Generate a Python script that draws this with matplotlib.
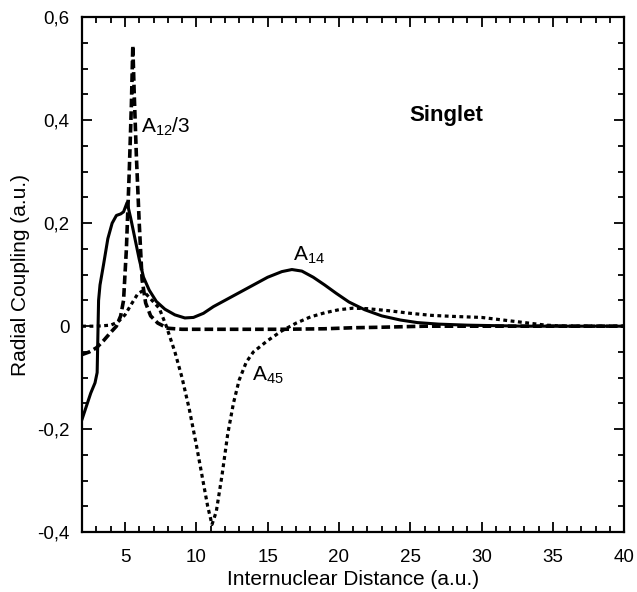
import matplotlib
matplotlib.use('Agg')
from matplotlib import pyplot as plt
from matplotlib.ticker import MultipleLocator, FuncFormatter

plt.rcParams['font.family'] = ['Liberation Sans', 'DejaVu Sans']

# A14 (solid)
x14 = [2.0, 2.3, 2.6, 2.9, 3.05, 3.1, 3.15, 3.25, 3.5, 3.8, 4.1, 4.4, 4.7, 4.9, 5.15, 5.4, 5.7,
       6.0, 6.3, 6.7, 7.2, 7.8, 8.5, 9.2, 9.8, 10.5, 11.2, 12.0, 13.0, 14.0, 15.0, 16.0, 16.7,
       17.4, 18.2, 19.0, 19.8, 20.7, 21.8, 23.0, 24.3, 25.5, 27.0, 29.0, 31.0, 33.0, 36.0, 40.0]
y14 = [-0.18, -0.155, -0.13, -0.11, -0.09, -0.02, 0.05, 0.08, 0.12, 0.17, 0.2, 0.215, 0.218,
       0.222, 0.24, 0.21, 0.17, 0.13, 0.095, 0.07, 0.048, 0.033, 0.022, 0.016, 0.017, 0.025,
       0.038, 0.05, 0.065, 0.08, 0.095, 0.106, 0.11, 0.107, 0.095, 0.08, 0.064, 0.047, 0.032,
       0.02, 0.012, 0.007, 0.004, 0.002, 0.001, 0.0, 0.0, 0.0]

# A12/3 (dashed)
x12 = [2.0, 2.5, 3.0, 3.5, 4.0, 4.4, 4.7, 4.9, 5.1, 5.3, 5.45, 5.55, 5.65, 5.8, 6.0, 6.2, 6.45,
       6.8, 7.3, 8.0, 9.0, 12.0, 16.0, 19.0, 21.0, 23.0, 26.0, 40.0]
y12 = [-0.055, -0.05, -0.042, -0.028, -0.012, 0.0, 0.02, 0.05, 0.15, 0.3, 0.43, 0.545, 0.45,
       0.33, 0.2, 0.09, 0.045, 0.02, 0.006, -0.004, -0.006, -0.006, -0.006, -0.005, -0.003,
       -0.002, 0.0, 0.0]

# A45 (dotted)
x45 = [2.0, 3.0, 4.0, 4.5, 5.0, 5.5, 5.9, 6.2, 6.5, 6.9, 7.4, 7.9, 8.5, 9.0, 9.5, 10.0, 10.4,
       10.8, 11.1, 11.4, 11.8, 12.2, 12.6, 13.0, 13.5, 14.0, 15.0, 16.0, 17.0, 18.0, 19.0, 20.0,
       21.0, 22.0, 23.5, 25.0, 26.5, 28.0, 30.0, 31.5, 33.0, 34.5, 36.0, 40.0]
y45 = [0.0, 0.0, 0.002, 0.008, 0.022, 0.045, 0.063, 0.068, 0.062, 0.05, 0.035, 0.0, -0.05,
       -0.1, -0.16, -0.23, -0.29, -0.35, -0.385, -0.36, -0.29, -0.21, -0.15, -0.105, -0.07,
       -0.05, -0.028, -0.009, 0.006, 0.018, 0.026, 0.032, 0.035, 0.034, 0.03, 0.025, 0.021,
       0.019, 0.017, 0.012, 0.007, 0.002, 0.0, 0.0]

fig = plt.figure(figsize=(6.37, 5.92), dpi=100)
ax = fig.add_axes([0.129, 0.101, 0.851, 0.870])

ax.plot(x14, y14, color='black', lw=2.2, ls='-')
ax.plot(x12, y12, color='black', lw=2.6, ls=(0, (2.4, 1.1)))
ax.plot(x45, y45, color='black', lw=2.3, ls=(0, (1.2, 1.1)))

ax.set_xlim(2, 40)
ax.set_ylim(-0.4, 0.6)
ax.xaxis.set_major_locator(MultipleLocator(5))
ax.xaxis.set_minor_locator(MultipleLocator(1))
ax.yaxis.set_major_locator(MultipleLocator(0.2))
ax.yaxis.set_minor_locator(MultipleLocator(0.05))


def comma_fmt(v, pos):
    if abs(v) < 1e-9:
        return '0'
    return ('%.1f' % v).replace('.', ',')


ax.yaxis.set_major_formatter(FuncFormatter(comma_fmt))
ax.tick_params(which='both', direction='in', top=True, right=True, labelsize=13.5, width=1.3)
ax.tick_params(which='major', length=7)
ax.tick_params(axis='x', which='major', pad=12)
ax.tick_params(axis='y', which='major', pad=9)
ax.tick_params(which='minor', length=4)
for s in ax.spines.values():
    s.set_linewidth(1.6)

ax.set_xlabel('Internuclear Distance (a.u.)', fontsize=15, labelpad=3)
ax.set_ylabel('Radial Coupling (a.u.)', fontsize=15, labelpad=5)

ax.text(27.5, 0.41, 'Singlet', fontsize=16, fontweight='bold', ha='center', va='center')
ax.text(6.15, 0.388, r'A$_{\mathregular{12}}$/3', fontsize=15, ha='left', va='center')
ax.text(16.8, 0.138, r'A$_{\mathregular{14}}$', fontsize=15, ha='left', va='center')
ax.text(13.9, -0.095, r'A$_{\mathregular{45}}$', fontsize=15, ha='left', va='center')

fig.savefig('out.png', dpi=100)
